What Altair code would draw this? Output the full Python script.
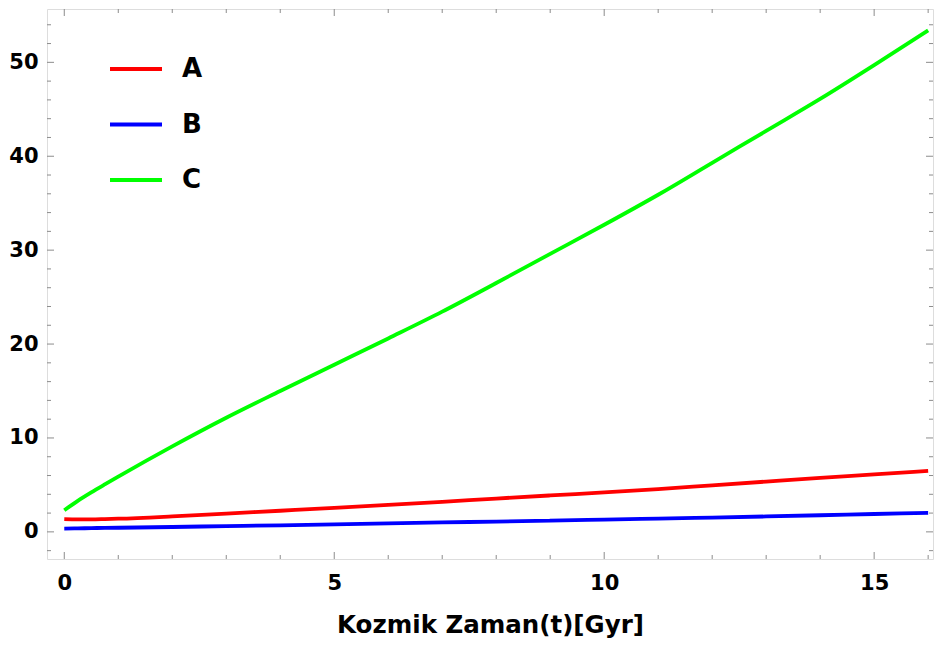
import altair as alt
import pandas as pd

# ---- data ----
t_vals = [0, 0.25, 0.5, 0.75, 1, 2, 3, 4, 5, 6, 7, 8, 9, 10, 11, 12, 13, 14, 15, 16]
A_vals = [1.36, 1.33, 1.33, 1.36, 1.40, 1.65, 1.95, 2.25, 2.55, 2.87, 3.20, 3.55, 3.88, 4.20, 4.55, 4.95, 5.35, 5.75, 6.12, 6.50]
B_vals = [0.35, 0.37, 0.40, 0.42, 0.44, 0.52, 0.61, 0.70, 0.80, 0.90, 1.00, 1.10, 1.20, 1.30, 1.41, 1.52, 1.64, 1.77, 1.90, 2.03]
C_vals = [2.30, 3.30, 4.20, 5.05, 5.88, 9.10, 12.15, 15.00, 17.80, 20.60, 23.45, 26.50, 29.60, 32.70, 35.90, 39.30, 42.70, 46.10, 49.70, 53.40]
series_names = ["A", "B", "C"]
series_colors = ["#FF0000", "#0000FF", "#00FF00"]

x_major = [0, 5, 10, 15]
x_minor = [1, 2, 3, 4, 6, 7, 8, 9, 11, 12, 13, 14, 16]
y_major = [0, 10, 20, 30, 40, 50]
y_minor = [-2, 2, 4, 6, 8, 12, 14, 16, 18, 22, 24, 26, 28, 32, 34, 36, 38, 42, 44, 46, 48, 52, 54]

x_title = "Kozmik Zaman(t)[Gyr]"

# ---- layout ----
W, H = 886, 550
X_DOM = [-0.32, 16.09]
Y_DOM = [-2.89, 55.68]
FRAME = "#8c8c8c"
MAJ, MIN = 7, 4

rows = []
for name, vals in zip(series_names, [A_vals, B_vals, C_vals]):
    for t, v in zip(t_vals, vals):
        rows.append({"t": t, "v": v, "s": name})
df = pd.DataFrame(rows)

xs = alt.Scale(domain=X_DOM, nice=False, zero=False)
ys = alt.Scale(domain=Y_DOM, nice=False, zero=False)

xaxis = alt.Axis(values=x_major, grid=False, domain=False, ticks=False, tickSize=0,
                 labelPadding=13, labelFont="DejaVu Sans", labelFontWeight="bold",
                 labelFontSize=21, labelColor="black",
                 titleFont="DejaVu Sans", titleFontWeight="bold", titleFontSize=24.5,
                 titleColor="black", titlePadding=20)
yaxis = alt.Axis(values=y_major, grid=False, domain=False, ticks=False, tickSize=0,
                 labelPadding=9, labelFont="DejaVu Sans", labelFontWeight="bold",
                 labelFontSize=21, labelColor="black")

XT = alt.X("t:Q", scale=xs, title=x_title, axis=xaxis)
YV = alt.Y("v:Q", scale=ys, title=None, axis=yaxis)

lines = alt.Chart(df).mark_line(strokeWidth=3.8, interpolate="monotone", strokeCap="butt").encode(
    x=XT,
    y=YV,
    color=alt.Color("s:N", scale=alt.Scale(domain=series_names, range=series_colors),
                    legend=alt.Legend(title=None, orient="none", legendX=61, legendY=32,
                                      symbolType="stroke", symbolSize=2704, symbolStrokeWidth=3.8,
                                      labelFont="DejaVu Sans", labelFontWeight="bold",
                                      labelFontSize=26, labelColor="black", labelOffset=18,
                                      rowPadding=14.5, padding=0)),
)

xt_major = pd.DataFrame({"t": x_major})
xt_minor = pd.DataFrame({"t": x_minor})
yt_major = pd.DataFrame({"v": y_major})
yt_minor = pd.DataFrame({"v": y_minor})

def xticks(d, L):
    base = alt.Chart(d).mark_rule(color=FRAME, strokeWidth=1)
    bot = base.encode(x=XT, y=alt.value(H), y2=alt.value(H - L))
    top = base.encode(x=XT, y=alt.value(0), y2=alt.value(L))
    return bot + top

def yticks(d, L):
    base = alt.Chart(d).mark_rule(color=FRAME, strokeWidth=1)
    lef = base.encode(y=YV, x=alt.value(0), x2=alt.value(L))
    rig = base.encode(y=YV, x=alt.value(W), x2=alt.value(W - L))
    return lef + rig

chart = alt.layer(
    lines,
    xticks(xt_major, MAJ), xticks(xt_minor, MIN),
    yticks(yt_major, MAJ), yticks(yt_minor, MIN),
).properties(
    width=W, height=H,
    autosize=alt.AutoSizeParams(type="none"),
    padding={"left": 39, "top": 1, "right": 1, "bottom": 81},
).configure_view(
    stroke=FRAME, strokeWidth=1.3
).configure(background="white")

chart.save("out.html", embed_options={"renderer": "svg", "actions": False})
